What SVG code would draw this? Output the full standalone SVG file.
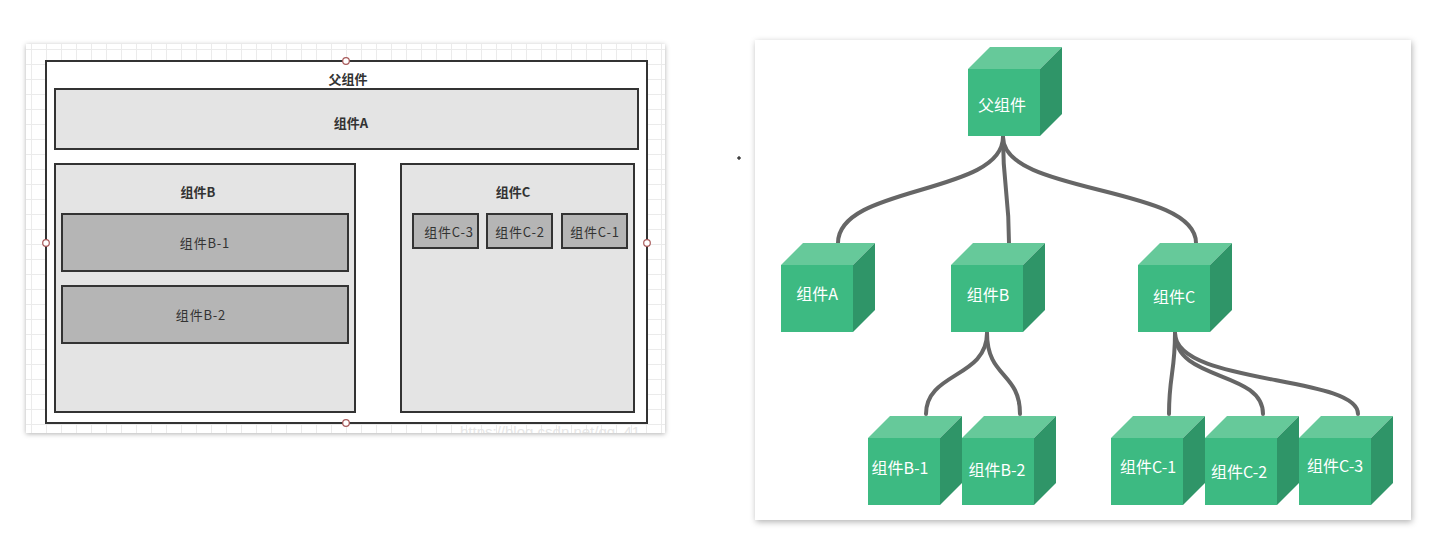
<svg xmlns="http://www.w3.org/2000/svg" xmlns:xlink="http://www.w3.org/1999/xlink" width="1450" height="541" viewBox="0 0 1450 541">
<style>
.frame{fill:#ffffff;stroke:#333333;stroke-width:2}
.box{fill:#e4e4e4;stroke:#333333;stroke-width:2}
.sub{fill:#b5b5b5;stroke:#333333;stroke-width:2}
.handle{fill:#ffffff;stroke:#a85a5a;stroke-width:1.2}
.lt{font-family:"Noto Sans CJK SC","Liberation Sans",sans-serif;font-size:13px;fill:#333333;text-anchor:middle;dominant-baseline:central}
.b{font-weight:bold}
.sp{letter-spacing:0.8px}
.ct{font-family:"Noto Sans CJK SC","Liberation Sans",sans-serif;font-size:16px;fill:#ffffff;text-anchor:middle;dominant-baseline:central}
.link{fill:none;stroke:#666666;stroke-width:4;stroke-linecap:round}
.front{fill:#3dba82}
.top{fill:#66c99a}
.side{fill:#2f9568}
</style>
<defs>
<pattern id="grid" patternUnits="userSpaceOnUse" x="46" y="49" width="15" height="15">
<path d="M0 0.5H15M0.5 0V15" stroke="#ebebeb" stroke-width="1" fill="none"/>
</pattern>
<filter id="sh1" x="-5%" y="-5%" width="110%" height="110%">
<feDropShadow dx="0" dy="1" stdDeviation="2.5" flood-color="#000" flood-opacity="0.3"/>
</filter>
<filter id="sh2" x="-5%" y="-5%" width="110%" height="110%">
<feDropShadow dx="1" dy="2" stdDeviation="3" flood-color="#000" flood-opacity="0.3"/>
</filter>
<clipPath id="panelclip"><rect x="26" y="44" width="639" height="389"/></clipPath>
<g id="cube">
<polygon class="top" points="0,0 22,-22 94,-22 72,0"/>
<polygon class="side" points="72,0 94,-22 94,45 72,67"/>
<rect class="front" x="0" y="0" width="72" height="67"/>
</g>
</defs>

<!-- Left panel -->
<g id="left-panel">
<rect x="26" y="44" width="639" height="389" fill="#ffffff" filter="url(#sh1)"/>
<rect x="26" y="44" width="639" height="389" fill="url(#grid)"/>
<text x="460" y="437" clip-path="url(#panelclip)" font-family="Liberation Sans, sans-serif" font-size="15" fill="#e6e6e6">https://blog.csdn.net/qq_41</text>
</g>

<g id="parent-frame">
<rect class="frame" x="46" y="61" width="601" height="362"/>
<text class="lt b" x="348" y="78">父组件</text>
</g>
<g id="comp-a">
<rect class="box" x="55" y="89" width="583" height="60"/>
<text class="lt b" x="351" y="122">组件A</text>
</g>
<g id="comp-b">
<rect class="box" x="55" y="164" width="300" height="248"/>
<text class="lt b" x="198" y="191">组件B</text>
</g>
<g id="comp-b1">
<rect class="sub" x="62" y="214" width="286" height="57"/>
<text class="lt sp" x="205" y="242">组件B-1</text>
</g>
<g id="comp-b2">
<rect class="sub" x="62" y="286" width="286" height="57"/>
<text class="lt sp" x="201" y="314">组件B-2</text>
</g>
<g id="comp-c">
<rect class="box" x="401" y="164" width="233" height="248"/>
<text class="lt b" x="513" y="191">组件C</text>
</g>
<g id="comp-c3">
<rect class="sub" x="413" y="214" width="65" height="34"/>
<text class="lt sp" x="449" y="231">组件C-3</text>
</g>
<g id="comp-c2">
<rect class="sub" x="487" y="214" width="65" height="34"/>
<text class="lt sp" x="520" y="231">组件C-2</text>
</g>
<g id="comp-c1">
<rect class="sub" x="562" y="214" width="65" height="34"/>
<text class="lt sp" x="595" y="231">组件C-1</text>
</g>
<g id="handles">
<circle class="handle" cx="346" cy="61" r="3.3"/>
<circle class="handle" cx="346" cy="423" r="3.3"/>
<circle class="handle" cx="46" cy="243" r="3.3"/>
<circle class="handle" cx="647" cy="243" r="3.3"/>
</g>

<path d="M737 158H741M739 156V160" stroke="#000" stroke-width="1"/>

<!-- Right panel -->
<rect x="755" y="40" width="656" height="480" fill="#ffffff" filter="url(#sh2)"/>

<g id="connectors">
<path class="link" d="M1003 137C1003 195 838 185 838 243"/>
<path class="link" d="M1003 137C1003 190 1009 190 1009 243"/>
<path class="link" d="M1003 137C1003 195 1196 185 1196 243"/>
<path class="link" d="M987 333C987 378 926 372 926 414"/>
<path class="link" d="M987 333C987 378 1020 372 1020 414"/>
<path class="link" d="M1175 333C1175 372 1169 376 1169 414"/>
<path class="link" d="M1175 333C1175 382 1263 370 1263 414"/>
<path class="link" d="M1175 333C1175 385 1358 375 1358 414"/>
</g>

<g id="node-parent"><use xlink:href="#cube" x="968" y="69"/><text class="ct" x="1002" y="104">父组件</text></g>
<g id="node-a"><use xlink:href="#cube" x="781" y="265"/><text class="ct" x="817" y="293">组件A</text></g>
<g id="node-b"><use xlink:href="#cube" x="951" y="265"/><text class="ct" x="988" y="294">组件B</text></g>
<g id="node-c"><use xlink:href="#cube" x="1138" y="265"/><text class="ct" x="1174" y="296">组件C</text></g>
<g id="node-b1"><use xlink:href="#cube" x="868" y="438"/><text class="ct" x="900" y="467">组件B-1</text></g>
<g id="node-b2"><use xlink:href="#cube" x="962" y="438"/><text class="ct" x="997" y="469">组件B-2</text></g>
<g id="node-c1"><use xlink:href="#cube" x="1111" y="438"/><text class="ct" x="1148" y="466">组件C-1</text></g>
<g id="node-c2"><use xlink:href="#cube" x="1205" y="438"/><text class="ct" x="1239" y="471">组件C-2</text></g>
<g id="node-c3"><use xlink:href="#cube" x="1299" y="438"/><text class="ct" x="1335" y="465">组件C-3</text></g>
</svg>
